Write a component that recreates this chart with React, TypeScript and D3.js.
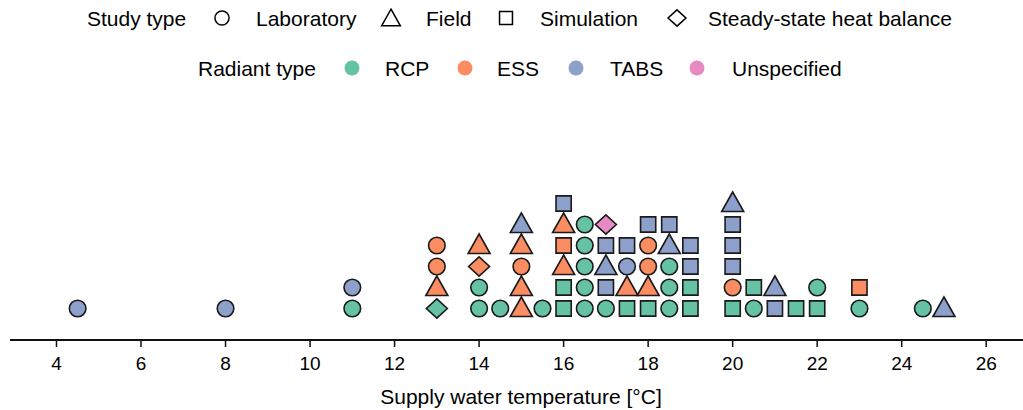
import React from "react";
import * as d3 from "d3";

// ---- data (in stacking order within each temperature bin) ----
const temps = [
  4.5, 8, 11, 11,
  13, 13, 13, 13,
  14, 14, 14, 14,
  14.5,
  15, 15, 15, 15, 15,
  15.5,
  16, 16, 16, 16, 16, 16,
  16.5, 16.5, 16.5, 16.5, 16.5,
  17, 17, 17, 17, 17,
  17.5, 17.5, 17.5, 17.5,
  18, 18, 18, 18, 18,
  18.5, 18.5, 18.5, 18.5, 18.5,
  19, 19, 19, 19,
  20, 20, 20, 20, 20, 20,
  20.5, 20.5,
  21, 21,
  21.5,
  22, 22,
  23, 23,
  24.5,
  25,
];
const studyTypes = [
  "Laboratory", "Laboratory", "Laboratory", "Laboratory",
  "Steady-state heat balance", "Field", "Laboratory", "Laboratory",
  "Laboratory", "Laboratory", "Steady-state heat balance", "Field",
  "Laboratory",
  "Field", "Field", "Laboratory", "Field", "Field",
  "Laboratory",
  "Simulation", "Simulation", "Field", "Simulation", "Field", "Simulation",
  "Laboratory", "Laboratory", "Laboratory", "Laboratory", "Laboratory",
  "Laboratory", "Simulation", "Field", "Simulation", "Steady-state heat balance",
  "Simulation", "Field", "Laboratory", "Simulation",
  "Simulation", "Field", "Laboratory", "Laboratory", "Simulation",
  "Laboratory", "Laboratory", "Laboratory", "Field", "Simulation",
  "Simulation", "Simulation", "Simulation", "Simulation",
  "Simulation", "Laboratory", "Simulation", "Simulation", "Simulation", "Field",
  "Laboratory", "Simulation",
  "Simulation", "Field",
  "Simulation",
  "Simulation", "Laboratory",
  "Laboratory", "Simulation",
  "Laboratory",
  "Field",
];
const radiantTypes = [
  "TABS", "TABS", "RCP", "TABS",
  "RCP", "ESS", "ESS", "ESS",
  "RCP", "RCP", "ESS", "ESS",
  "RCP",
  "ESS", "ESS", "ESS", "ESS", "TABS",
  "RCP",
  "RCP", "RCP", "ESS", "ESS", "ESS", "TABS",
  "RCP", "RCP", "RCP", "RCP", "RCP",
  "RCP", "TABS", "TABS", "TABS", "Unspecified",
  "RCP", "ESS", "TABS", "TABS",
  "RCP", "ESS", "ESS", "ESS", "TABS",
  "RCP", "RCP", "RCP", "TABS", "TABS",
  "RCP", "RCP", "TABS", "TABS",
  "RCP", "ESS", "TABS", "TABS", "TABS", "TABS",
  "RCP", "RCP",
  "TABS", "TABS",
  "RCP",
  "RCP", "RCP",
  "RCP", "ESS",
  "RCP",
  "TABS",
];

const studyLegend = ["Laboratory", "Field", "Simulation", "Steady-state heat balance"];
const radiantLegend = ["RCP", "ESS", "TABS", "Unspecified"];
const radiantColors = ["#66c2a5", "#fc8d62", "#8da0cb", "#e78ac3"];
const xTicks = [4, 6, 8, 10, 12, 14, 16, 18, 20, 22, 24, 26];
const xTitle = "Supply water temperature [°C]";

const W = 1023;
const H = 410;
const FONT = "'Liberation Sans', Arial, sans-serif";

const x = d3.scaleLinear().domain([2.9, 26.87]).range([10, 1023]);
const yRow = d3.scaleLinear().domain([0, 5]).range([308.5, 203.5]);
const color = d3.scaleOrdinal<string, string>().domain(radiantLegend).range(radiantColors);

function shapePath(type: string, s = 1): string {
  const p = d3.path();
  if (type === "Laboratory") {
    const r = 8.3 * s;
    p.moveTo(r, 0);
    p.arc(0, 0, r, 0, Math.PI * 2);
    p.closePath();
  } else if (type === "Simulation") {
    const h = 7.6 * s;
    p.rect(-h, -h, 2 * h, 2 * h);
  } else if (type === "Field") {
    const hw = 11 * s;
    p.moveTo(0, -11.5 * s);
    p.lineTo(hw, 8 * s);
    p.lineTo(-hw, 8 * s);
    p.closePath();
  } else {
    const hw = 10.5 * s;
    const hh = 9.6 * s;
    p.moveTo(0, -hh);
    p.lineTo(hw, 0);
    p.lineTo(0, hh);
    p.lineTo(-hw, 0);
    p.closePath();
  }
  return p.toString();
}

export default function App() {
  // compute stack row for each point within its bin
  const counts = new Map<number, number>();
  const points = temps.map((t, i) => {
    const row = counts.get(t) ?? 0;
    counts.set(t, row + 1);
    return { t, row, study: studyTypes[i], radiant: radiantTypes[i] };
  });

  const axisY = 340;

  // legend layout
  const leg1Y = 18;
  const leg2Y = 68;
  const leg1 = [
    { sym: studyLegend[0], sx: 222, tx: 256 },
    { sym: studyLegend[1], sx: 391, tx: 426 },
    { sym: studyLegend[2], sx: 506, tx: 540 },
    { sym: studyLegend[3], sx: 677, tx: 708 },
  ];
  const leg2X = [
    { sx: 352, tx: 385 },
    { sx: 465, tx: 497 },
    { sx: 576, tx: 610 },
    { sx: 697, tx: 732 },
  ];

  return (
    <div>
      <style>{`body{margin:0}`}</style>
      <svg width={W} height={H} style={{ display: "block", background: "#fff" }}>
        {/* legend */}
        <g fontFamily={FONT} fontSize={21} fill="#000">
          <text x={87} y={leg1Y} dominantBaseline="central">Study type</text>
          {leg1.map((d) => (
            <g key={d.sym}>
              <path
                d={shapePath(d.sym, 0.85)}
                transform={`translate(${d.sx},${leg1Y + (d.sym === "Field" ? 1 : 0)})`}
                fill="#fff"
                stroke="#000"
                strokeWidth={1.5}
              />
              <text x={d.tx} y={leg1Y} dominantBaseline="central">{d.sym}</text>
            </g>
          ))}
          <text x={198} y={leg2Y} dominantBaseline="central">Radiant type</text>
          {radiantLegend.map((r, i) => (
            <g key={r}>
              <circle cx={leg2X[i].sx} cy={leg2Y} r={7.5} fill={color(r)} />
              <text x={leg2X[i].tx} y={leg2Y} dominantBaseline="central">{r}</text>
            </g>
          ))}
        </g>

        {/* axis */}
        <line x1={10} x2={1023} y1={axisY} y2={axisY} stroke="#111" strokeWidth={2} />
        {xTicks.map((t) => (
          <g key={t} transform={`translate(${x(t)},0)`}>
            <line y1={axisY} y2={axisY + 7} stroke="#111" strokeWidth={1.5} />
            <text
              y={axisY + 23}
              textAnchor="middle"
              dominantBaseline="central"
              fontFamily={FONT}
              fontSize={19}
              fill="#000"
            >
              {t}
            </text>
          </g>
        ))}
        <text
          x={521}
          y={396}
          textAnchor="middle"
          dominantBaseline="central"
          fontFamily={FONT}
          fontSize={21}
          fill="#000"
        >
          {xTitle}
        </text>

        {/* points */}
        {points.map((p, i) => (
          <path
            key={i}
            d={shapePath(p.study)}
            transform={`translate(${x(p.t)},${yRow(p.row)})`}
            fill={color(p.radiant)}
            stroke="#1a1a1a"
            strokeWidth={1.6}
          />
        ))}
      </svg>
    </div>
  );
}
